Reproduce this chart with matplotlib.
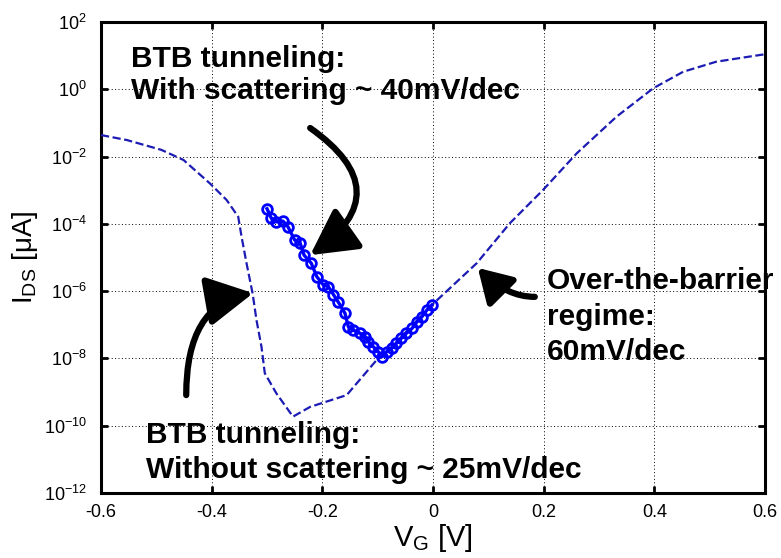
import numpy as np
import matplotlib
matplotlib.use("Agg")
import matplotlib.pyplot as plt
from matplotlib.ticker import NullLocator, FixedLocator

plt.rcParams['font.family'] = ['Liberation Sans', 'DejaVu Sans']
plt.rcParams['mathtext.default'] = 'regular'

# Gate voltage sweep and drain current (log10 of I_DS in uA)
# Ballistic simulation: BTB tunneling without scattering, then over-the-barrier
vg_ballistic = [-0.600, -0.553, -0.491, -0.451, -0.403, -0.373, -0.352, -0.346,
                -0.337, -0.326, -0.319, -0.310, -0.304, -0.283, -0.253, -0.222,
                -0.156, -0.102, -0.092, 0.000, 0.079, 0.139, 0.199, 0.260,
                0.332, 0.398, 0.452, 0.512, 0.591, 0.600]
logi_ballistic = [-1.36, -1.51, -1.80, -2.10, -2.80, -3.29, -3.79, -4.38,
                  -5.17, -6.07, -6.86, -7.65, -8.44, -9.04, -9.73, -9.44,
                  -9.09, -8.05, -7.95, -6.38, -5.17, -3.98, -2.99, -1.90,
                  -0.81, 0.03, 0.52, 0.82, 1.02, 1.04]

# Simulation with scattering
vg_scatter = [-0.300, -0.292, -0.283, -0.271, -0.262, -0.250, -0.240, -0.233,
              -0.220, -0.210, -0.198, -0.189, -0.180, -0.171, -0.159, -0.153,
              -0.144, -0.132, -0.123, -0.117, -0.108, -0.099, -0.092, -0.084,
              -0.075, -0.066, -0.057, -0.048, -0.038, -0.029, -0.020, -0.011,
              -0.002]
logi_scatter = [-3.55, -3.84, -3.94, -3.92, -4.09, -4.48, -4.58, -4.93,
                -5.17, -5.57, -5.82, -5.87, -6.10, -6.33, -6.66, -7.06,
                -7.16, -7.25, -7.35, -7.50, -7.65, -7.80, -7.95, -7.80,
                -7.70, -7.55, -7.40, -7.25, -7.11, -6.91, -6.76, -6.56,
                -6.41]

x_ticks = [-0.6, -0.4, -0.2, 0, 0.2, 0.4, 0.6]
x_tick_labels = ['-0.6', '-0.4', '-0.2', '0', '0.2', '0.4', '0.6']
y_exponents = [-12, -10, -8, -6, -4, -2, 0, 2]
y_tick_labels = [r'$10^{%d}$' % e for e in y_exponents]

W, H = 781, 558
fig = plt.figure(figsize=(W / 100, H / 100), dpi=100)
ax = fig.add_axes([101 / W, 1 - 493 / H, (765 - 101) / W, (493 - 22) / H])

ax.plot(vg_ballistic, 10.0 ** np.array(logi_ballistic), linestyle='--',
        color='#1c1cb4', linewidth=1.6, zorder=3)
ax.plot(vg_scatter, 10.0 ** np.array(logi_scatter), linestyle='-', color='#0000ff',
        linewidth=2.4, marker='o', markersize=7, markerfacecolor='none',
        markeredgewidth=2.0, markeredgecolor='#0000ff', zorder=4)

ax.set_yscale('log')
ax.set_xlim(-0.6, 0.6)
ax.set_ylim(1e-12, 1e2)
ax.xaxis.set_major_locator(FixedLocator(x_ticks))
ax.set_xticklabels(x_tick_labels)
ax.yaxis.set_major_locator(FixedLocator([10.0 ** e for e in y_exponents]))
ax.set_yticklabels(y_tick_labels)
ax.yaxis.set_minor_locator(NullLocator())
ax.xaxis.set_minor_locator(NullLocator())

ax.grid(True, which='major', color='black', linestyle=(0, (1, 2.5)), linewidth=0.7)
ax.set_axisbelow(True)
for sp in ax.spines.values():
    sp.set_linewidth(2.2)
ax.tick_params(direction='in', length=5, width=2, top=True, right=True,
               labelsize=13, colors='black')
ax.tick_params(axis='y', pad=10)
ax.tick_params(axis='x', pad=8)

ax.set_xlabel(r'V$_{G}$ [V]', fontsize=21, labelpad=1)
ax.set_ylabel(r'I$_{DS}$ [μA]', fontsize=20, labelpad=3)


def figpx(x, y):
    return x / W, 1 - y / H


note_kw = dict(fontsize=21.5, fontweight='bold', color='black', va='baseline',
               ha='left', zorder=2)
for txt, (x, y) in [('BTB tunneling:', (131, 67)),
                    ('With scattering ~ 40mV/dec', (131, 99)),
                    ('BTB tunneling:', (146, 443)),
                    ('Without scattering ~ 25mV/dec', (146, 478)),
                    ('Over-the-barrier', (547, 289)),
                    ('regime:', (547, 325)),
                    ('60mV/dec', (547, 360))]:
    fx, fy = figpx(x, y)
    fig.text(fx, fy, txt, **note_kw)

arrow_kw = dict(color='black', lw=4.5, shrinkA=0, shrinkB=0)
ax.annotate('', xy=(-0.222, 10 ** -4.93), xytext=(-0.222, 10 ** -1.15),
            arrowprops=dict(arrowstyle='-|>,head_length=1.4,head_width=0.75',
                            connectionstyle='arc3,rad=-0.71', mutation_scale=20,
                            **arrow_kw))
ax.annotate('', xy=(-0.325, 10 ** -6.06), xytext=(-0.446, 10 ** -9.09),
            arrowprops=dict(arrowstyle='-|>,head_length=1.4,head_width=0.75',
                            connectionstyle='angle3,angleA=90,angleB=10',
                            mutation_scale=20, **arrow_kw))
ax.annotate('', xy=(0.081, 10 ** -5.31), xytext=(0.184, 10 ** -6.17),
            arrowprops=dict(arrowstyle='-|>,head_length=1.0,head_width=0.6',
                            connectionstyle='angle3,angleA=180,angleB=135',
                            mutation_scale=20, **arrow_kw))

fig.savefig('out.png', dpi=100)
